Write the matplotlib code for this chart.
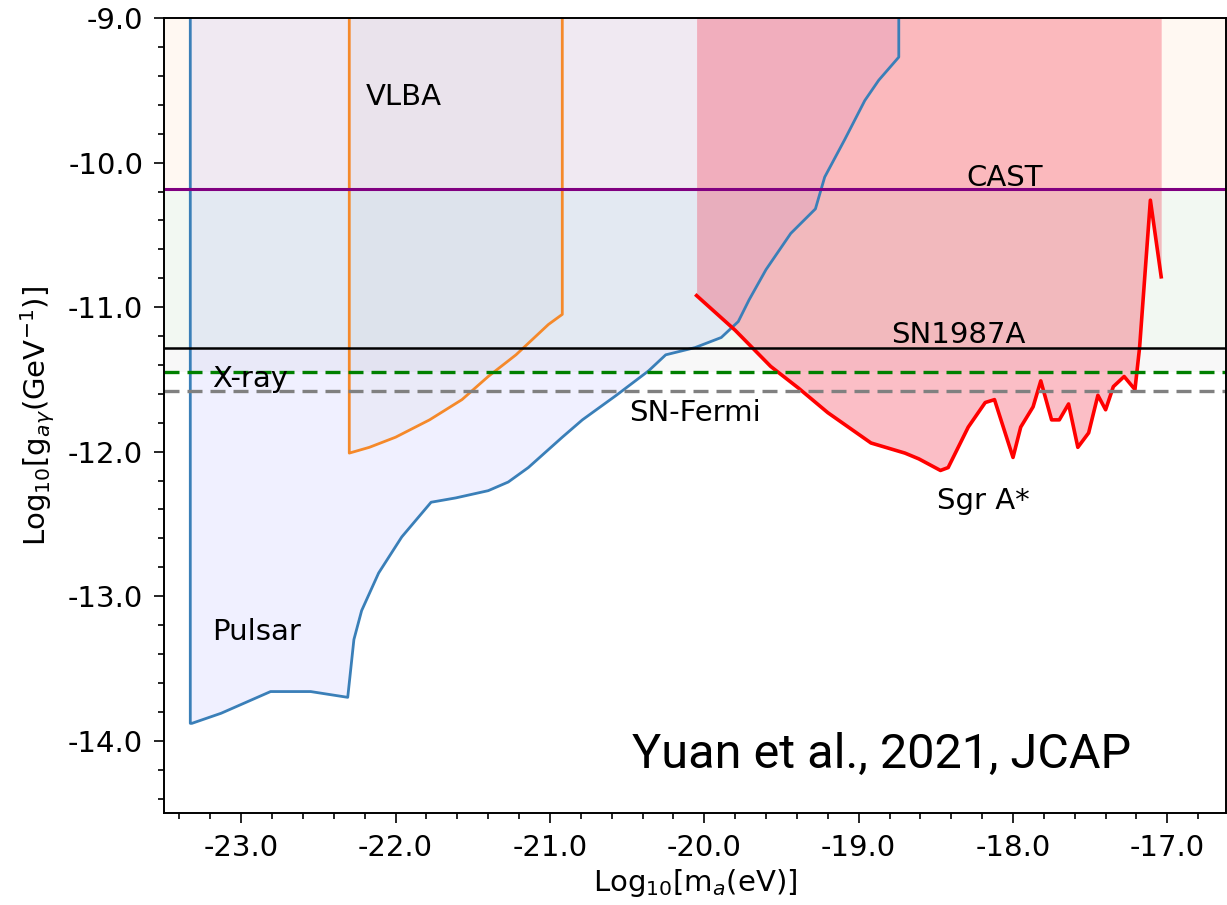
import matplotlib
matplotlib.use('Agg')
import matplotlib.pyplot as plt
from matplotlib.ticker import MultipleLocator, FormatStrFormatter

plt.rcParams['font.family'] = 'DejaVu Sans'
plt.rcParams['axes.unicode_minus'] = False

# Pulsar limit (log10 m_a [eV], log10 g [GeV^-1])
pulsar_x = [-23.33, -23.33, -23.32, -23.13, -22.81, -22.55, -22.31, -22.27, -22.22,
            -22.11, -21.96, -21.77, -21.61, -21.40, -21.27, -21.14, -20.92, -20.79,
            -20.57, -20.36, -20.25, -20.06, -19.89, -19.78, -19.71, -19.60, -19.44,
            -19.28, -19.22, -19.09, -18.96, -18.87, -18.74, -18.74]
pulsar_y = [-9.0, -13.88, -13.88, -13.81, -13.66, -13.66, -13.70, -13.30, -13.10,
            -12.84, -12.59, -12.35, -12.32, -12.27, -12.21, -12.11, -11.90, -11.78,
            -11.61, -11.44, -11.33, -11.28, -11.21, -11.10, -10.95, -10.74, -10.49,
            -10.32, -10.10, -9.84, -9.57, -9.43, -9.27, -9.0]

# VLBA limit
vlba_x = [-22.30, -22.30, -22.17, -22.00, -21.78, -21.57, -21.40, -21.22, -21.12,
          -21.01, -20.92, -20.92]
vlba_y = [-9.0, -12.01, -11.97, -11.90, -11.78, -11.64, -11.48, -11.33, -11.23,
          -11.12, -11.05, -9.0]

# Sgr A* limit
sgra_x = [-20.05, -19.80, -19.57, -19.39, -19.20, -18.92, -18.70, -18.61, -18.47,
          -18.42, -18.29, -18.18, -18.12, -18.00, -17.95, -17.87, -17.82, -17.75,
          -17.70, -17.64, -17.58, -17.51, -17.45, -17.40, -17.35, -17.28, -17.21,
          -17.18, -17.11, -17.04]
sgra_y = [-10.92, -11.16, -11.41, -11.56, -11.73, -11.94, -12.01, -12.05, -12.13,
          -12.11, -11.83, -11.66, -11.64, -12.04, -11.83, -11.69, -11.51, -11.78,
          -11.78, -11.67, -11.97, -11.87, -11.61, -11.71, -11.55, -11.48, -11.57,
          -11.28, -10.26, -10.79]

# constant limits
cast_g = -10.18
sn1987a_g = -11.28
xray_g = -11.45
snfermi_g = -11.58

fig = plt.figure(figsize=(12.27, 9.05), dpi=100)
ax = fig.add_axes([0.1337, 0.1017, 0.8655, 0.8783])

# faint bands of the constant limits
ax.axhspan(cast_g, -9.0, color='C1', alpha=0.05, lw=0)
ax.axhspan(sn1987a_g, cast_g, color='green', alpha=0.05, lw=0)
ax.axhspan(xray_g, sn1987a_g, color='gray', alpha=0.05, lw=0)

ax.fill(pulsar_x, pulsar_y, color='b', alpha=0.06, lw=0)
ax.fill(vlba_x, vlba_y, color='gray', alpha=0.05, lw=0)
ax.fill_between(sgra_x, sgra_y, -9.0, color='#f52845', alpha=0.3, lw=0)

ax.plot(pulsar_x, pulsar_y, color='#3a7fb8', lw=2.0)
ax.plot(vlba_x, vlba_y, color='#f5892a', lw=2.0)
ax.plot(sgra_x, sgra_y, color='red', lw=2.6)

ax.axhline(cast_g, color='purple', lw=2.2)
ax.axhline(sn1987a_g, color='black', lw=1.8)
ax.axhline(xray_g, color='green', lw=2.4, ls=(0, (4.5, 2.4)))
ax.axhline(snfermi_g, color='gray', lw=2.4, ls=(0, (4.5, 2.4)))

fs = 21
ax.text(-22.19, -9.60, 'VLBA', fontsize=fs)
ax.text(-18.30, -10.16, 'CAST', fontsize=fs)
ax.text(-18.79, -11.25, 'SN1987A', fontsize=fs)
ax.text(-23.19, -11.55, 'X-ray', fontsize=fs)
ax.text(-20.49, -11.79, 'SN-Fermi', fontsize=fs)
ax.text(-18.49, -12.40, 'Sgr A*', fontsize=fs)
ax.text(-23.19, -13.30, 'Pulsar', fontsize=fs)
cite = ax.text(-20.47, -14.19, 'Yuan et al., 2021, JCAP', fontsize=36, family='Roboto')

ax.set_xlim(-23.5, -16.62)
ax.set_ylim(-14.5, -9.0)
ax.xaxis.set_major_locator(MultipleLocator(1.0))
ax.xaxis.set_minor_locator(MultipleLocator(0.2))
ax.yaxis.set_major_locator(MultipleLocator(1.0))
ax.yaxis.set_minor_locator(MultipleLocator(0.2))
ax.xaxis.set_major_formatter(FormatStrFormatter('%.1f'))
ax.yaxis.set_major_formatter(FormatStrFormatter('%.1f'))
ax.tick_params(which='major', length=7, width=1.2, labelsize=fs, pad=8)
ax.tick_params(which='minor', length=4, width=1.2)
for s in ax.spines.values():
    s.set_linewidth(1.4)

ax.set_xlabel('Log$_{10}$[m$_a$(eV)]', fontsize=fs, labelpad=4)
ax.set_ylabel('Log$_{10}$[g$_{a\\gamma}$(GeV$^{-1}$)]', fontsize=fs, labelpad=8)

# size the citation so it spans about 500 px like the slide annotation
fig.canvas.draw()
w = cite.get_window_extent().width
cite.set_fontsize(36 * 500 / w)

fig.savefig('out.png', dpi=100)
